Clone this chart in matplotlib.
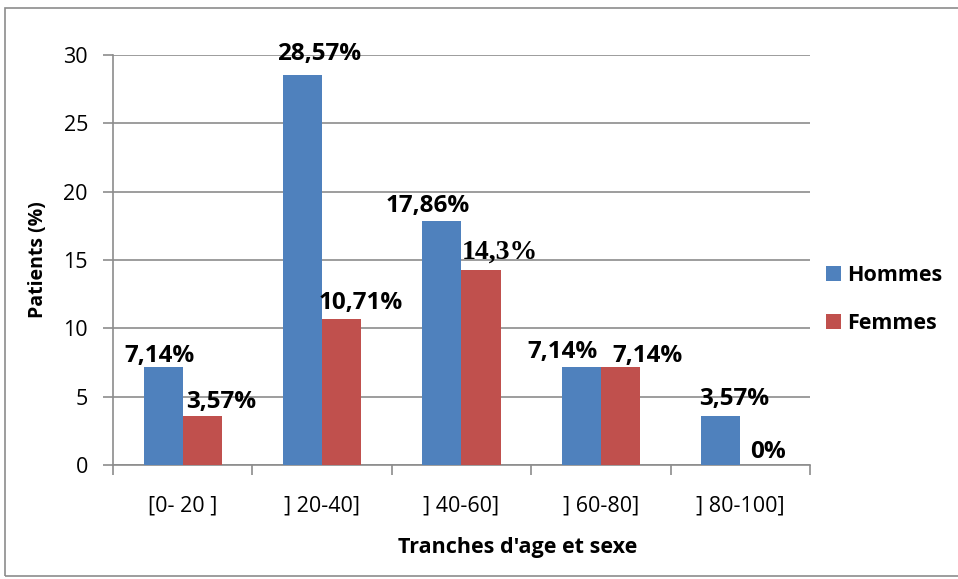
import matplotlib
matplotlib.use("Agg")
import matplotlib.pyplot as plt
import numpy as np
from matplotlib.patches import Rectangle

categories = ["[0- 20 ]", "] 20-40]", "] 40-60]", "] 60-80]", "] 80-100]"]
hommes = [7.14, 28.57, 17.86, 7.14, 3.57]
femmes = [3.57, 10.71, 14.3, 7.14, 0.0]
hommes_labels = ["7,14%", "28,57%", "17,86%", "7,14%", "3,57%"]
femmes_labels = ["3,57%", "10,71%", "14,3%", "7,14%", "0%"]
yticks = [0, 5, 10, 15, 20, 25, 30]

# label placement offsets (pixels) as in the reference layout
hommes_dx = [-4, 17, -14, -19, 13]
hommes_dy = [11, 21, 15, 15, 17]
femmes_dx = [19, 19, 19, 27, 8]
femmes_dy = [14, 16, 17, 11, 13]

BLUE = "#4F81BD"
RED = "#C0504D"
GRID = "#8C8C8C"
FONT = "Open Sans"

fig = plt.figure(figsize=(9.58, 5.79), dpi=100)
fig.patches.append(Rectangle((5/958, 1-576/579), 1.2, (576-8)/579, transform=fig.transFigure,
                             fill=False, edgecolor="#8C8C8C", linewidth=1.2))

ax = fig.add_axes([113/958, 1-465/579, (810-113)/958, (465-55)/579])
x = np.arange(len(categories))
w = 0.28
ax.bar(x - w/2, hommes, w, color=BLUE, label="Hommes", zorder=3)
ax.bar(x + w/2, femmes, w, color=RED, label="Femmes", zorder=3)

PT = 0.72  # points per pixel at dpi 100

def lab(xp, yp, s, dx, dy, serif=False):
    ax.annotate(s, (xp, yp), xytext=(dx * PT, dy * PT), textcoords="offset points",
                ha="center", va="center", fontsize=20 if serif else 17.5, fontweight="bold",
                family="Liberation Serif" if serif else FONT, zorder=4)

for i in range(len(categories)):
    lab(x[i] - w/2, hommes[i], hommes_labels[i], hommes_dx[i], hommes_dy[i])
    lab(x[i] + w/2, femmes[i], femmes_labels[i], femmes_dx[i], femmes_dy[i],
        serif=(femmes_labels[i] == "14,3%"))

ax.set_xlim(-0.5, len(categories) - 0.5)
ax.set_ylim(0, 30)
ax.set_yticks(yticks)
ax.set_yticklabels([str(t) for t in yticks], fontsize=15.5, family=FONT)
ax.yaxis.grid(True, color=GRID, linewidth=1.2, zorder=0)
ax.set_xticks(x)
ax.set_xticklabels(categories, fontsize=15.5, family=FONT)
ax.tick_params(axis="x", length=0, pad=22)
ax.set_xticks(np.arange(-0.5, len(categories)), minor=True)
ax.tick_params(axis="x", which="minor", length=7, width=1.2, color=GRID, direction="out")
ax.tick_params(axis="y", length=7, width=1.2, color=GRID, direction="out", pad=11)

for s in ["top", "right"]:
    ax.spines[s].set_visible(False)
for s in ["left", "bottom"]:
    ax.spines[s].set_color(GRID)
    ax.spines[s].set_linewidth(1.2)

ax.set_ylabel("Patients (%)", fontsize=14, fontweight="bold", family=FONT)
ax.yaxis.set_label_coords(-0.108, 0.5)
ax.set_xlabel("Tranches d'age et sexe", fontsize=15.5, fontweight="bold", family=FONT)
ax.xaxis.set_label_coords(0.58, -0.2)
ax.xaxis.label.set_va("center")
ax.yaxis.label.set_va("center")

leg = ax.legend(loc="center left", bbox_to_anchor=(0.995, 0.403), frameon=False,
                prop={"family": FONT, "weight": "bold", "size": 15.5},
                handlelength=0.7, handleheight=0.7, handletextpad=0.3, labelspacing=1.25)

fig.savefig("out.png", dpi=100)
